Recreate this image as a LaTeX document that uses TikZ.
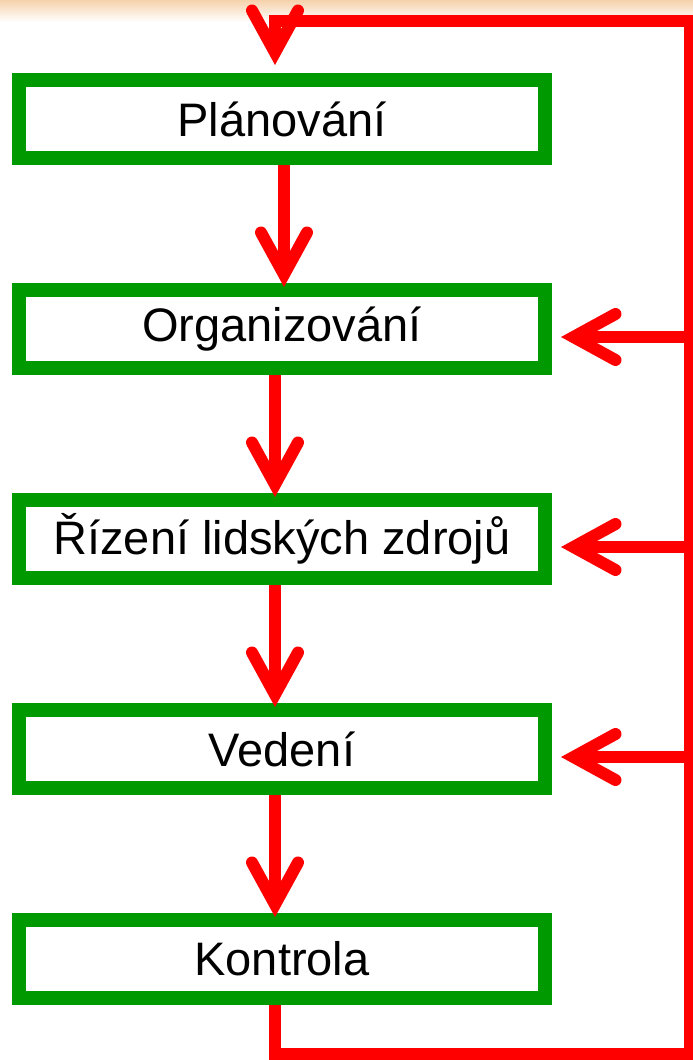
\documentclass[tikz,border=0pt]{standalone}
\usepackage{fontspec}
\setmainfont{Liberation Sans}
\usetikzlibrary{arrows.meta,calc}
\definecolor{boxgreen}{RGB}{0,153,0}
\definecolor{bandtop}{RGB}{246,210,172}

\begin{document}
\begin{tikzpicture}[x=1pt,y=1pt,
	stage/.style={minimum width=526pt, minimum height=78pt, inner sep=0pt, line width=14pt, draw=boxgreen, fill=white, font=\fontsize{47}{56}\selectfont},
	flow/.style={line width=12pt, draw=red, -{Straight Barb[length=42pt,width=46pt,line cap=round,line join=miter]}}]

		\useasboundingbox (0,0) rectangle (693,-1060);
		\shade[top color=bandtop, bottom color=white] (0,0) rectangle (693,-22);

		\node (plan) [stage] at (282,-119) {Plánování};
		\node (org) [stage, below of=plan, node distance=210pt] {Organizování};
		\node (lz) [stage, below of=org, node distance=210pt] {Řízení lidských zdrojů};
		\node (ved) [stage, below of=lz, node distance=210pt] {Vedení};
		\node (kon) [stage, below of=ved, node distance=210pt] {Kontrola};

		\draw[flow] ($(plan.south)+(2,0)$) -- ($(org.north)+(2,-4)$);
		\draw[flow] ($(org.south)+(-7,0)$) -- ($(lz.north)+(-7,-4)$);
		\draw[flow] ($(lz.south)+(-7,0)$) -- ($(ved.north)+(-7,-4)$);
		\draw[flow] ($(ved.south)+(-7,0)$) -- ($(kon.north)+(-7,-4)$);

		% feedback from Kontrola back to the top
		\coordinate (lb) at ($(kon.south)+(-7,-49)$);
		\coordinate (rb) at (690,-1054);
		\coordinate (rt) at (690,-21);
		\coordinate (lt) at (275,-21);
		\draw[flow] ($(kon.south)+(-7,0)$) -- (lb) -- (rb) -- (rt) -- (lt) -- ($(plan.north)+(-7,8)$);

		\foreach \n in {org,lz,ved} {
			\draw[flow] ($(\n.east -| rb)+(0,-8)$) -- ($(\n.east)+(9,-8)$);
		}

	\end{tikzpicture}
\end{document}
